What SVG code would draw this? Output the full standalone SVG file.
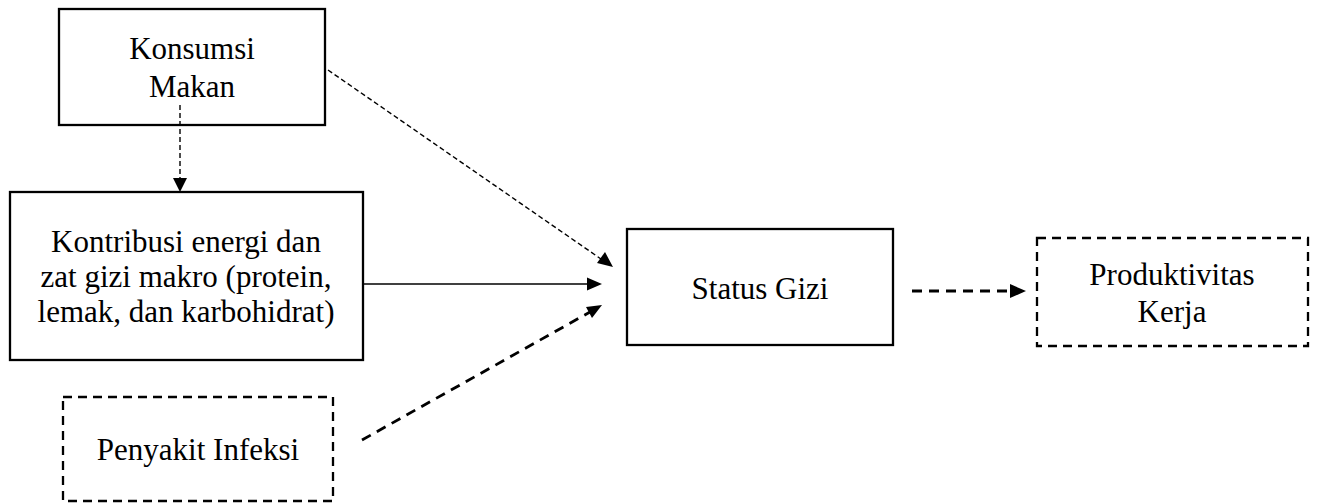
<svg xmlns="http://www.w3.org/2000/svg" width="1319" height="504" viewBox="0 0 1319 504">
<style>
text{font-family:"Liberation Serif","Times New Roman",serif;font-size:31px;fill:#000;text-anchor:middle}
.box{fill:#fff;stroke:#000;stroke-width:2.3}
.dbox{fill:#fff;stroke:#000;stroke-width:2.3;stroke-dasharray:9 6}
.thin{fill:none;stroke:#000;stroke-width:1.4;stroke-dasharray:5 3}
.thick{fill:none;stroke:#000;stroke-width:2.8;stroke-dasharray:10 7}
.solid{fill:none;stroke:#000;stroke-width:1.5}
.head{fill:#000;stroke:none}
</style>
<rect width="1319" height="504" fill="#fff"/>
<g id="konsumsi">
<rect class="box" x="59" y="9" width="266" height="116"/>
<text x="192" y="59">Konsumsi</text>
<text x="192" y="97">Makan</text>
</g>
<g id="kontribusi">
<rect class="box" x="10" y="192" width="353" height="168"/>
<text x="186" y="252">Kontribusi energi dan</text>
<text x="186" y="287">zat gizi makro (protein,</text>
<text x="186" y="322">lemak, dan karbohidrat)</text>
</g>
<g id="penyakit">
<rect class="dbox" x="63" y="397" width="270" height="104"/>
<text x="198" y="460">Penyakit Infeksi</text>
</g>
<g id="status">
<rect class="box" x="627" y="229" width="266" height="116"/>
<text x="760" y="299">Status Gizi</text>
</g>
<g id="produktivitas">
<rect class="dbox" x="1037" y="238" width="271" height="108"/>
<text x="1172" y="285">Produktivitas</text>
<text x="1172" y="322">Kerja</text>
</g>
<g id="connectors">
<line class="thin" x1="180" y1="105" x2="180" y2="179"/>
<polygon class="head" points="180,192 173,178 187,178"/>
<line class="thin" x1="328" y1="70" x2="601" y2="259"/>
<polygon class="head" points="613,267 597,263 605,252"/>
<line class="solid" x1="363" y1="284" x2="588" y2="284"/>
<polygon class="head" points="602,284 587,277.5 587,290.5"/>
<line class="thick" x1="362" y1="440" x2="590" y2="312"/>
<polygon class="head" points="602,305 592,318 586,307"/>
<line class="thick" x1="912" y1="291" x2="1011" y2="291"/>
<polygon class="head" points="1026,291 1010,284 1010,298"/>
</g>
</svg>
